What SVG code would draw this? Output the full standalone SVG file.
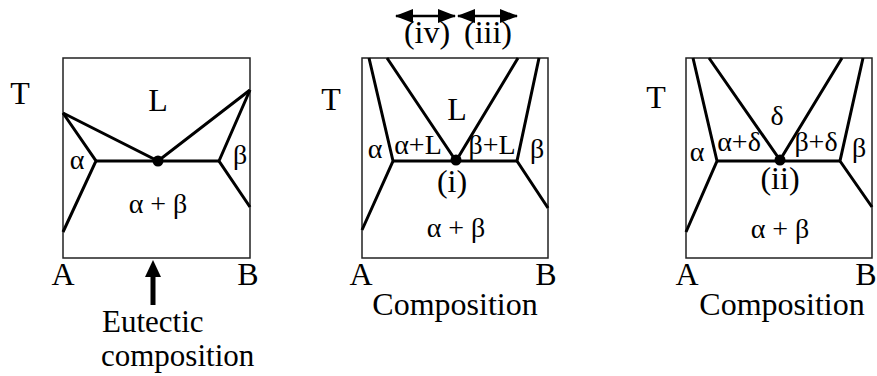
<svg xmlns="http://www.w3.org/2000/svg" width="877" height="376" viewBox="0 0 877 376">
<style>
.box{fill:none;stroke:#222;stroke-width:1.5}
.ph{fill:none;stroke:#000;stroke-width:3;stroke-linejoin:miter}
.dot{fill:#000}
.arr{stroke:#000;stroke-width:2.5;fill:none}
</style>
<defs>
<marker id="ah" viewBox="0 0 18 14" refX="17" refY="7" markerWidth="18" markerHeight="14" markerUnits="userSpaceOnUse" orient="auto-start-reverse">
<path d="M0,0 L18,7 L0,14 Z" fill="#000"/>
</marker>
</defs>

<g id="panel1">
<rect class="box" x="63" y="58" width="187" height="200"/>
<polyline class="ph" points="63,113 158,161 250,90"/>
<polyline class="ph" points="63,113 96,161 63,232"/>
<polyline class="ph" points="250,90 219,161 250,207"/>
<line class="ph" x1="96" y1="161" x2="219" y2="161"/>
<circle class="dot" cx="158" cy="161" r="5.5"/>
<g font-family="Liberation Serif, Times New Roman, serif" font-size="32" text-anchor="middle" fill="#000">
<text x="20" y="104">T</text>
<text x="158" y="111">L</text>
<text x="63" y="285">A</text>
<text x="248" y="285">B</text>
</g>
<g font-family="Liberation Serif, Times New Roman, serif" font-size="31" fill="#000">
<text x="102" y="332">Eutectic</text>
<text x="101" y="366">composition</text>
</g>
<g font-family="Liberation Serif, Times New Roman, serif" font-size="28" text-anchor="middle" fill="#000">
<text x="77" y="169">α</text>
<text x="240" y="164">β</text>
<text x="158" y="213">α + β</text>
</g>
</g>

<g id="panel2">
<rect class="box" x="362" y="58" width="186" height="200"/>
<polyline class="ph" points="369,58 393,161 362,230"/>
<polyline class="ph" points="387,58 456,161 518,58"/>
<polyline class="ph" points="539,58 517,161 548,208"/>
<line class="ph" x1="393" y1="161" x2="517" y2="161"/>
<circle class="dot" cx="456" cy="160" r="5.5"/>
<g font-family="Liberation Serif, Times New Roman, serif" font-size="32" text-anchor="middle" fill="#000">
<text x="331" y="110">T</text>
<text x="457" y="120">L</text>
<text x="452" y="192">(i)</text>
<text x="361" y="285">A</text>
<text x="546" y="285">B</text>
<text x="455" y="315">Composition</text>
<text x="427" y="43">(iv)</text>
<text x="488" y="43">(iii)</text>
</g>
<g font-family="Liberation Serif, Times New Roman, serif" font-size="28" text-anchor="middle" fill="#000">
<text x="375" y="158">α</text>
<text x="418" y="154">α+L</text>
<text x="492" y="154">β+L</text>
<text x="537" y="158">β</text>
<text x="456" y="237">α + β</text>
</g>
</g>

<g id="panel3">
<rect class="box" x="686" y="58" width="186" height="200"/>
<polyline class="ph" points="693,58 717,161 686,232"/>
<polyline class="ph" points="709,58 780,160 842,58"/>
<polyline class="ph" points="863,58 840,161 872,207"/>
<line class="ph" x1="717" y1="161" x2="840" y2="161"/>
<circle class="dot" cx="780" cy="160" r="5.5"/>
<g font-family="Liberation Serif, Times New Roman, serif" font-size="32" text-anchor="middle" fill="#000">
<text x="656" y="108">T</text>
<text x="780" y="189">(ii)</text>
<text x="687" y="285">A</text>
<text x="866" y="285">B</text>
<text x="782" y="315">Composition</text>
</g>
<g font-family="Liberation Serif, Times New Roman, serif" font-size="28" text-anchor="middle" fill="#000">
<text x="777" y="125">δ</text>
<text x="697" y="161">α</text>
<text x="739" y="151">α+δ</text>
<text x="816" y="151">β+δ</text>
<text x="859" y="157">β</text>
<text x="780" y="238">α + β</text>
</g>
</g>

<g id="connectors">
<line class="arr" x1="396" y1="16" x2="455" y2="16" marker-start="url(#ah)" marker-end="url(#ah)"/>
<line class="arr" x1="458" y1="16" x2="517" y2="16" marker-start="url(#ah)" marker-end="url(#ah)"/>
<line x1="153" y1="305" x2="153" y2="274" stroke="#000" stroke-width="5"/>
<path d="M153,260 L161,277 L145,277 Z" fill="#000"/>
</g>
</svg>
